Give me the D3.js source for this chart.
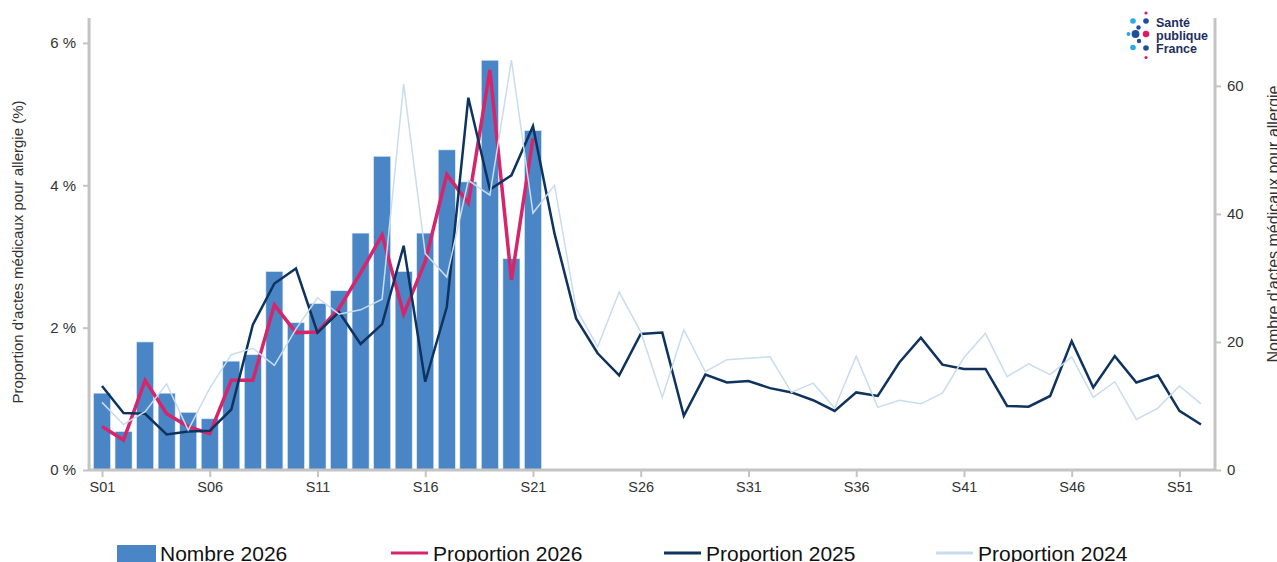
<!DOCTYPE html>
<html>
<head>
<meta charset="utf-8">
<script src="https://cdn.jsdelivr.net/npm/d3@7"></script>
<style>
  html, body { margin: 0; padding: 0; background: #fff; }
  svg { display: block; font-family: "Liberation Sans", Arial, sans-serif; }
</style>
</head>
<body>
<svg id="chart" width="1277" height="562"></svg>
<script>
// ---- Data ----
const weeks = d3.range(1, 53);
const weekTicks = [1, 6, 11, 16, 21, 26, 31, 36, 41, 46, 51];
const leftTicks = [0, 2, 4, 6];
const rightTicks = [0, 20, 40, 60];

const nombre2026 = [12, 6, 20, 12, 9, 8, 17, 18, 31, 23, 26, 28, 37, 49, 31, 37, 50, 45, 64, 33, 53];

const prop2026 = [0.61, 0.42, 1.26, 0.79, 0.61, 0.51, 1.26, 1.26, 2.32, 1.93, 1.94, 2.27, 2.77, 3.30, 2.19, 2.93, 4.15, 3.75, 5.62, 2.67, 4.66];

const prop2025 = [1.18, 0.80, 0.79, 0.50, 0.54, 0.55, 0.85, 2.04, 2.62, 2.83, 1.93, 2.22, 1.77, 2.05, 3.15, 1.24, 2.29, 5.23, 3.94, 4.14,
  4.83, 3.32, 2.13, 1.64, 1.33, 1.91, 1.93, 0.76, 1.34, 1.23, 1.25, 1.15, 1.09, 0.98, 0.83, 1.09, 1.04, 1.51, 1.86, 1.48,
  1.42, 1.42, 0.90, 0.89, 1.04, 1.81, 1.16, 1.60, 1.23, 1.33, 0.83, 0.64];

const prop2024 = [0.95, 0.64, 0.82, 1.21, 0.56, 1.15, 1.62, 1.71, 1.47, 1.98, 2.42, 2.19, 2.25, 2.40, 5.42, 3.04, 2.71, 4.07, 3.86, 5.76,
  3.61, 4.00, 2.27, 1.73, 2.50, 1.94, 1.02, 1.97, 1.38, 1.55, 1.57, 1.59, 1.09, 1.22, 0.87, 1.60, 0.88, 0.98, 0.93, 1.08,
  1.58, 1.92, 1.31, 1.49, 1.34, 1.59, 1.02, 1.24, 0.71, 0.87, 1.18, 0.93];

const legendItems = ["Nombre 2026", "Proportion 2026", "Proportion 2025", "Proportion 2024"];

// ---- Styles ----
const C = {
  bar: "#4a86c5",
  pink: "#d5266c",
  navy: "#0f335f",
  light: "#c9dcef",
  axis: "#c4c4c4",
  text: "#333333"
};

const svg = d3.select("#chart");

const x = d3.scaleLinear().domain([1, 52]).range([102, 1201]);
const yL = d3.scaleLinear().domain([0, 6.35]).range([470, 18]);
const yR = d3.scaleLinear().domain([0, 70.6]).range([470, 18]);

const step = x(2) - x(1);
const bw = step * 0.79;
const xLeft = x(1) - step * 0.6;
const xRight = x(52) + step * 0.65;

// ---- Bars ----
svg.append("g").selectAll("rect")
  .data(nombre2026)
  .join("rect")
  .attr("x", (d, i) => x(i + 1) - bw / 2)
  .attr("y", d => yR(d))
  .attr("width", bw)
  .attr("height", d => yR(0) - yR(d))
  .attr("fill", C.bar)
  .attr("stroke", "#dce8f5")
  .attr("stroke-width", 0.6);

// ---- Lines ----
const line = d3.line().x((d, i) => x(i + 1)).y(d => yL(d));

svg.append("path").datum(prop2026).attr("d", line)
  .attr("fill", "none").attr("stroke", C.pink).attr("stroke-width", 3.5).attr("stroke-linejoin", "miter");
svg.append("path").datum(prop2025).attr("d", line)
  .attr("fill", "none").attr("stroke", C.navy).attr("stroke-width", 2.5).attr("stroke-linejoin", "miter");
svg.append("path").datum(prop2024).attr("d", line)
  .attr("fill", "none").attr("stroke", C.light).attr("stroke-width", 1.5).attr("stroke-linejoin", "miter");

// ---- Axes ----
const gL = svg.append("g").attr("transform", `translate(${xLeft},0)`)
  .call(d3.axisLeft(yL).tickValues(leftTicks).tickFormat(d => d + " %").tickSize(6).tickSizeOuter(0).tickPadding(7));
const gR = svg.append("g").attr("transform", `translate(${xRight},0)`)
  .call(d3.axisRight(yR).tickValues(rightTicks).tickSize(6).tickSizeOuter(0).tickPadding(6));
const gB = svg.append("g").attr("transform", `translate(0,${yL(0)})`)
  .call(d3.axisBottom(x).tickValues(weekTicks)
    .tickFormat(d => "S" + String(d).padStart(2, "0")).tickSize(7).tickSizeOuter(0).tickPadding(5));

[gL, gR, gB].forEach(g => {
  g.select(".domain").remove();
  g.selectAll(".tick line").attr("stroke", C.axis).attr("stroke-width", 2);
  g.selectAll(".tick text").attr("fill", C.text).style("font-size", "15px")
    .style("font-family", "'Liberation Sans', Arial, sans-serif");
});
gB.selectAll(".tick text").style("font-size", "14.5px");

// axis lines
svg.append("line").attr("x1", xLeft).attr("x2", xLeft).attr("y1", yL.range()[1]).attr("y2", yL(0) + 1)
  .attr("stroke", C.axis).attr("stroke-width", 3);
svg.append("line").attr("x1", xRight).attr("x2", xRight).attr("y1", yR.range()[1]).attr("y2", yR(0) + 1)
  .attr("stroke", C.axis).attr("stroke-width", 3);
svg.append("line").attr("x1", xLeft).attr("x2", xRight).attr("y1", yL(0)).attr("y2", yL(0))
  .attr("stroke", C.axis).attr("stroke-width", 3);

// axis titles
svg.append("text")
  .attr("transform", `translate(23,${(yL.range()[0] + yL.range()[1]) / 2 + 8}) rotate(-90)`)
  .attr("text-anchor", "middle").attr("fill", C.text).style("font-size", "15px")
  .text("Proportion d'actes médicaux pour allergie (%)");
svg.append("text")
  .attr("transform", `translate(1279,${(yR.range()[0] + yR.range()[1]) / 2 - 20}) rotate(-90)`)
  .attr("text-anchor", "middle").attr("fill", C.text).style("font-size", "16px")
  .text("Nombre d'actes médicaux pour allergie");

// ---- Legend ----
const legendX = [117, 391, 664, 936];
const lg = svg.append("g");
legendItems.forEach((name, i) => {
  const g = lg.append("g").attr("transform", `translate(${legendX[i]},553)`);
  if (i === 0) {
    g.append("rect").attr("x", 0).attr("y", -8).attr("width", 39).attr("height", 18).attr("fill", C.bar);
  } else {
    const col = [null, C.pink, C.navy, C.light][i];
    g.append("line").attr("x1", 0).attr("x2", 37).attr("y1", 0).attr("y2", 0)
      .attr("stroke", col).attr("stroke-width", 3);
  }
  g.append("text").attr("x", i === 0 ? 43 : 42).attr("y", 8)
    .attr("fill", "#111").style("font-size", "21px").text(name);
});

// ---- Logo ----
const logo = svg.append("g");
const dots = [
  [1146, 13, 1.6, "#e5175f"], [1146, 21, 2.8, "#1f4f9c"], [1133, 21, 2.8, "#29abe2"],
  [1138.5, 27.5, 2.2, "#1f4f9c"], [1128.5, 34, 2, "#29abe2"], [1135.5, 34, 3.9, "#1f4f9c"],
  [1146, 34, 3.2, "#e5175f"], [1139, 41, 2.2, "#1f4f9c"], [1133, 47.5, 2.8, "#29abe2"],
  [1146, 48, 2.8, "#1f4f9c"], [1146, 57.5, 1.6, "#e5175f"]
];
logo.selectAll("circle").data(dots).join("circle")
  .attr("cx", d => d[0]).attr("cy", d => d[1]).attr("r", d => d[2]).attr("fill", d => d[3]);
["Santé", "publique", "France"].forEach((t, i) => {
  logo.append("text").attr("x", 1156).attr("y", 27 + i * 13)
    .attr("fill", "#1d2f5e").style("font-size", "12.5px").style("font-weight", "bold")
    .style("font-family", "'Liberation Sans', Arial, sans-serif").text(t);
});
</script>
</body>
</html>
